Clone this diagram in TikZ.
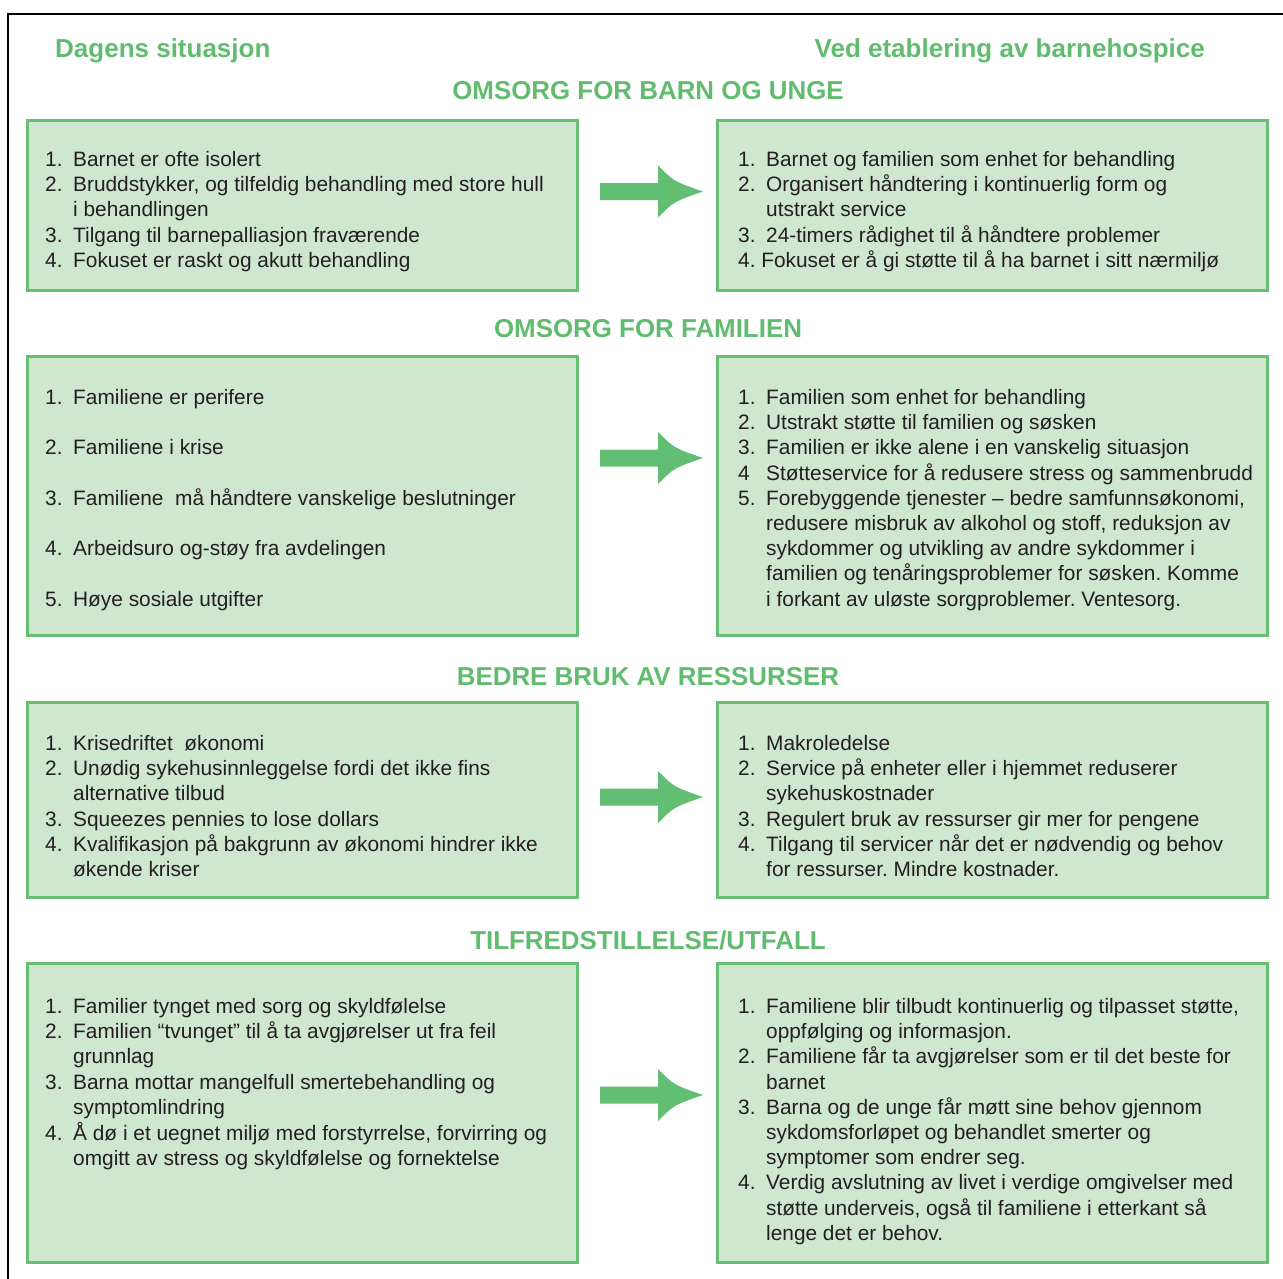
\documentclass[tikz,border=0pt]{standalone}
\usepackage{fontspec}
\setmainfont{Liberation Sans}
\usepackage{array}
\frenchspacing
\definecolor{hgreen}{HTML}{62BC70}
\definecolor{boxfill}{HTML}{CFE7CF}
\definecolor{boxline}{HTML}{68BF74}
\definecolor{agreen}{HTML}{62BE72}
\definecolor{txt}{HTML}{231F20}
\tikzset{
  box/.style={draw=boxline, line width=3pt, fill=boxfill, rectangle, inner sep=0pt},
  bodytext/.style={anchor=base west, inner sep=0pt, text=txt, font=\fontsize{20.85}{25.2}\selectfont},
  coltitle/.style={inner sep=0pt, text=hgreen, font=\fontsize{26}{30}\selectfont\bfseries},
  sectitle/.style={anchor=base, inner sep=0pt, text=hgreen, font=\fontsize{25.9}{28}\selectfont\bfseries},
  fatarrow/.pic={\fill[agreen] (-52,-8.5) -- (6,-8.5) -- (6,-26) .. controls (22,-10) .. (51,0) .. controls (22,10) .. (6,26) -- (6,8.5) -- (-52,8.5) -- cycle;}
}
\newcolumntype{N}{@{}>{\raggedright\arraybackslash}p{28pt}@{}}
\begin{document}
\begin{tikzpicture}[x=1pt,y=-1pt]
\useasboundingbox (0,0) rectangle (1283,1278);
% frame
\draw[line width=2pt] (8,1280) -- (8,14) -- (1285,14);
% column titles
\node[coltitle, anchor=base west] (tl) at (55,57) {Dagens situasjon};
\node[coltitle, anchor=base east] (tr) at (1205,57) {Ved etablering av barnehospice};
% section titles
\node[sectitle] (s1) at (648,99) {OMSORG FOR BARN OG UNGE};
\node[sectitle] (s2) at (648,337) {OMSORG FOR FAMILIEN};
\node[sectitle] (s3) at (648,685) {BEDRE BRUK AV RESSURSER};
\node[sectitle] (s4) at (648,949) {TILFREDSTILLELSE/UTFALL};
% boxes
\node[box, minimum width=550pt, minimum height=170pt] (l1) at (302,205) {};
\node[box, minimum width=550pt, minimum height=170pt] (r1) at (992,205) {};
\node[box, minimum width=550pt, minimum height=279pt] (l2) at (302,495.5) {};
\node[box, minimum width=550pt, minimum height=279pt] (r2) at (992,495.5) {};
\node[box, minimum width=550pt, minimum height=195pt] (l3) at (302,799.5) {};
\node[box, minimum width=550pt, minimum height=195pt] (r3) at (992,799.5) {};
\node[box, minimum width=550pt, minimum height=299pt] (l4) at (302,1112.5) {};
\node[box, minimum width=550pt, minimum height=299pt] (r4) at (992,1112.5) {};
% arrows
\pic (a1) at (652,191.5) {fatarrow};
\pic (a2) at (652,458) {fatarrow};
\pic (a3) at (652,797) {fatarrow};
\pic (a4) at (652,1095) {fatarrow};
% texts row 1
\node[bodytext] (l1t) at (45,166.5) {\begin{tabular}[t]{N l@{}}
1. & Barnet er ofte isolert\\
2. & Bruddstykker, og tilfeldig behandling med store hull\\
   & i behandlingen\\
3. & Tilgang til barnepalliasjon fraværende\\
4. & Fokuset er raskt og akutt behandling
\end{tabular}};
\node[bodytext] (r1t) at (738,166.5) {\begin{tabular}[t]{N l@{}}
1. & Barnet og familien som enhet for behandling\\
2. & Organisert håndtering i kontinuerlig form og\\
   & utstrakt service\\
3. & 24-timers rådighet til å håndtere problemer\\
\multicolumn{2}{@{}l@{}}{4. Fokuset er å gi støtte til å ha barnet i sitt nærmiljø}
\end{tabular}};
% texts row 2
\node[bodytext] (l2t) at (45,404.5) {\begin{tabular}[t]{N l@{}}
1. & Familiene er perifere\\
   & \\
2. & Familiene i krise\\
   & \\
3. & Familiene \ må håndtere vanskelige beslutninger\\
   & \\
4. & Arbeidsuro og-støy fra avdelingen\\
   & \\
5. & Høye sosiale utgifter
\end{tabular}};
\node[bodytext] (r2t) at (738,404.5) {\begin{tabular}[t]{N l@{}}
1. & Familien som enhet for behandling\\
2. & Utstrakt støtte til familien og søsken\\
3. & Familien er ikke alene i en vanskelig situasjon\\
4  & Støtteservice for å redusere stress og sammenbrudd\\
5. & Forebyggende tjenester – bedre samfunnsøkonomi,\\
   & redusere misbruk av alkohol og stoff, reduksjon av\\
   & sykdommer og utvikling av andre sykdommer i\\
   & familien og tenåringsproblemer for søsken. Komme\\
   & i forkant av uløste sorgproblemer. Ventesorg.
\end{tabular}};
% texts row 3
\node[bodytext] (l3t) at (45,750.5) {\begin{tabular}[t]{N l@{}}
1. & Krisedriftet \ økonomi\\
2. & Unødig sykehusinnleggelse fordi det ikke fins\\
   & alternative tilbud\\
3. & Squeezes pennies to lose dollars\\
4. & Kvalifikasjon på bakgrunn av økonomi hindrer ikke\\
   & økende kriser
\end{tabular}};
\node[bodytext] (r3t) at (738,750.5) {\begin{tabular}[t]{N l@{}}
1. & Makroledelse\\
2. & Service på enheter eller i hjemmet reduserer\\
   & sykehuskostnader\\
3. & Regulert bruk av ressurser gir mer for pengene\\
4. & Tilgang til servicer når det er nødvendig og behov\\
   & for ressurser. Mindre kostnader.
\end{tabular}};
% texts row 4
\node[bodytext] (l4t) at (45,1013.5) {\begin{tabular}[t]{N l@{}}
1. & Familier tynget med sorg og skyldfølelse\\
2. & Familien “tvunget” til å ta avgjørelser ut fra feil\\
   & grunnlag\\
3. & Barna mottar mangelfull smertebehandling og\\
   & symptomlindring\\
4. & Å dø i et uegnet miljø med forstyrrelse, forvirring og\\
   & omgitt av stress og skyldfølelse og fornektelse
\end{tabular}};
\node[bodytext] (r4t) at (738,1013.5) {\begin{tabular}[t]{N l@{}}
1. & Familiene blir tilbudt kontinuerlig og tilpasset støtte,\\
   & oppfølging og informasjon.\\
2. & Familiene får ta avgjørelser som er til det beste for\\
   & barnet\\
3. & Barna og de unge får møtt sine behov gjennom\\
   & sykdomsforløpet og behandlet smerter og\\
   & symptomer som endrer seg.\\
4. & Verdig avslutning av livet i verdige omgivelser med\\
   & støtte underveis, også til familiene i etterkant så\\
   & lenge det er behov.
\end{tabular}};
\end{tikzpicture}
\end{document}
